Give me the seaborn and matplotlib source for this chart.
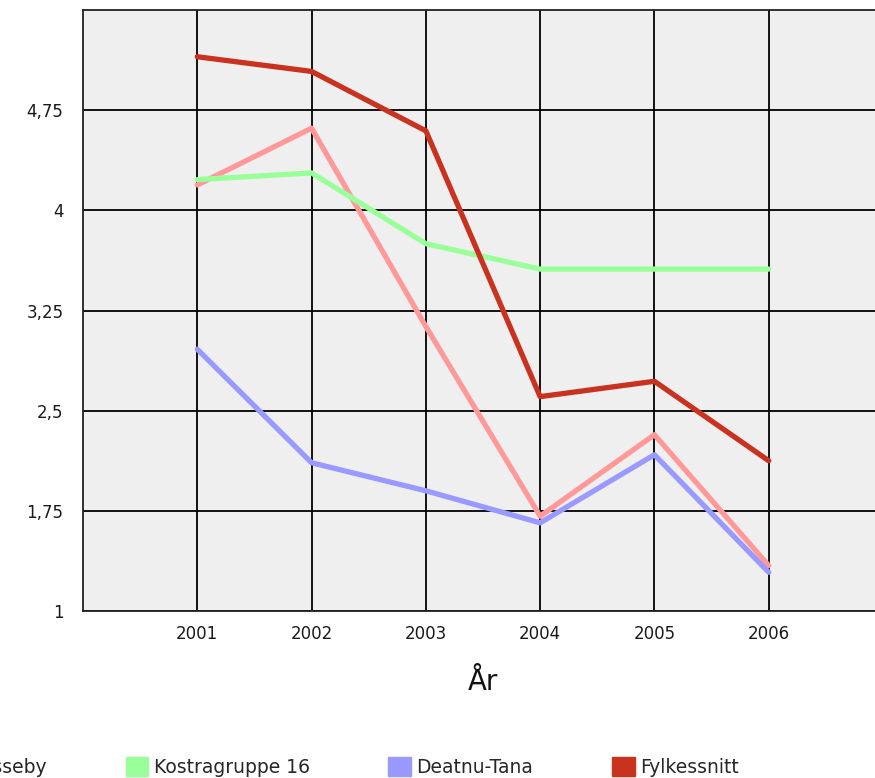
import pandas as pd
import matplotlib
matplotlib.use("Agg")
import matplotlib.pyplot as plt
from matplotlib.patches import Patch
import seaborn as sns

# Data
years = [2001, 2002, 2003, 2004, 2005, 2006]
nesseby = [4.19, 4.615, 3.13, 1.71, 2.32, 1.34]
kostragruppe = [4.23, 4.28, 3.75, 3.56, 3.56, 3.56]
tana = [2.96, 2.11, 1.90, 1.66, 2.17, 1.29]
fylkessnitt = [5.15, 5.04, 4.595, 2.605, 2.72, 2.125]

series_names = ["Unjárga-Nesseby", "Kostragruppe 16", "Deatnu-Tana", "Fylkessnitt"]
series_values = [nesseby, kostragruppe, tana, fylkessnitt]
series_colors = ["#FF9999", "#99FF99", "#9999FF", "#C8321E"]

y_ticks = [1, 1.75, 2.5, 3.25, 4, 4.75]
y_tick_labels = ["1", "1,75", "2,5", "3,25", "4", "4,75"]

# Long-form table for seaborn
rows = []
for name, vals in zip(series_names, series_values):
    for yr, v in zip(years, vals):
        rows.append({"År": yr, "Verdi": v, "Serie": name})
df = pd.DataFrame(rows)

sns.set_style("white")
plt.rcParams['font.family'] = ['DejaVu Sans']

fig = plt.figure(figsize=(8.75, 7.78), dpi=100)
ax = fig.add_axes([83 / 875, 167 / 778, 800 / 875, 601 / 778])
ax.set_facecolor("#EFEFEF")

palette = dict(zip(series_names, series_colors))
sns.lineplot(data=df, x="År", y="Verdi", hue="Serie", palette=palette,
             linewidth=3.8, legend=False, ax=ax, zorder=3)

ax.set_xlim(2000, 2007)
ax.set_ylim(1, 5.5)
ax.set_xticks(years)
ax.set_xticklabels([str(y) for y in years])
ax.set_yticks(y_ticks)
ax.set_yticklabels(y_tick_labels)

ax.grid(True, color="black", linewidth=1.3, zorder=1)
ax.set_axisbelow(True)
for side in ["left", "bottom", "top", "right"]:
    ax.spines[side].set_color("#222222")
    ax.spines[side].set_linewidth(1.3)

ax.tick_params(axis="both", direction="out", length=7, width=1.3,
               color="black", labelsize=12, labelcolor="#1a1a1a")
ax.tick_params(axis="y", pad=7)
ax.tick_params(axis="x", pad=3)

ax.set_xlabel("År", fontsize=20, labelpad=18, color="#111111")
ax.set_ylabel("")

# legend along the bottom; the first entry runs off the left edge as in the source
handles = [Patch(facecolor=c, edgecolor=c) for c in series_colors]
fig.legend(handles, series_names, loc="center right", ncol=4,
           bbox_to_anchor=(739 / 875, 11 / 778), frameon=False,
           fontsize=13.5, handlelength=1.2, handleheight=1.2,
           handletextpad=0.3, columnspacing=4.2, borderpad=0,
           borderaxespad=0)

fig.savefig("out.png", dpi=100)
